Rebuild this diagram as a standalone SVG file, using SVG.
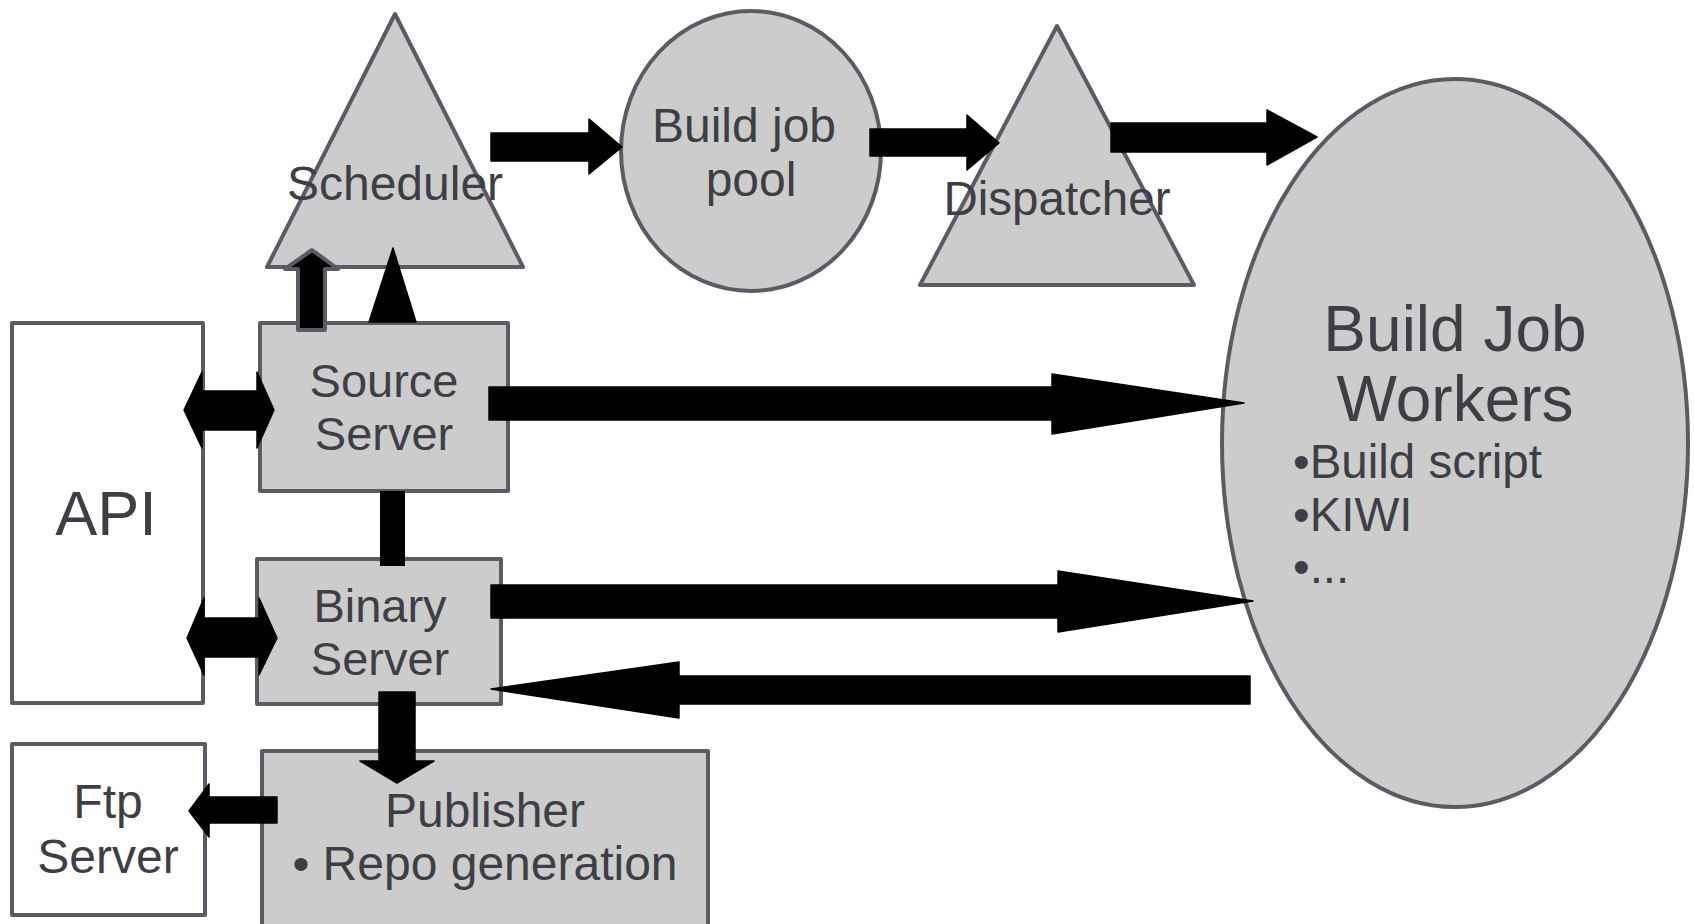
<svg xmlns="http://www.w3.org/2000/svg" width="1694" height="924" viewBox="0 0 1694 924">
  <style>
    .shape { fill: #cccccc; stroke: #5b5b65; stroke-width: 4; stroke-linejoin: round; }
    .plain { fill: #ffffff; stroke: #5b5b65; stroke-width: 4; stroke-linejoin: round; }
    .lbl { font-family: "Liberation Sans", Arial, sans-serif; fill: #3e3e46; text-anchor: middle; }
    .bul { font-family: "Liberation Sans", Arial, sans-serif; fill: #3e3e46; text-anchor: start; }
    .arrow { fill: #000000; stroke: #000000; stroke-width: 1.5; stroke-linejoin: round; }
    .arrow-out { fill: #000000; stroke: #5b5b65; stroke-width: 4; stroke-linejoin: round; }
  </style>

  <rect width="1694" height="924" fill="#ffffff"/>

  <g id="scheduler">
    <polygon class="shape" points="395,14 267,267 523,267"/>
    <text class="lbl" x="395" y="200" font-size="48">Scheduler</text>
  </g>

  <g id="build-job-pool">
    <ellipse class="shape" cx="751" cy="151" rx="130" ry="140"/>
    <text class="lbl" x="744" y="142" font-size="48">Build job</text>
    <text class="lbl" x="751" y="196" font-size="48">pool</text>
  </g>

  <g id="dispatcher">
    <polygon class="shape" points="1057,26 920,285 1194,285"/>
    <text class="lbl" x="1057" y="215" font-size="47.5">Dispatcher</text>
  </g>

  <g id="build-job-workers">
    <ellipse class="shape" cx="1455" cy="443" rx="233" ry="364"/>
    <text class="lbl" x="1455" y="351" font-size="64">Build Job</text>
    <text class="lbl" x="1455" y="421" font-size="64">Workers</text>
    <text class="bul" x="1293" y="478" font-size="47.5">•Build script</text>
    <text class="bul" x="1293" y="531" font-size="47.5">•KIWI</text>
    <text class="bul" x="1293" y="583" font-size="47.5">•...</text>
  </g>

  <g id="api">
    <rect class="plain" x="12" y="323" width="191" height="380"/>
    <text class="lbl" x="106" y="535" font-size="63">API</text>
  </g>

  <g id="source-server">
    <rect class="shape" x="260" y="323" width="248" height="168"/>
    <text class="lbl" x="384" y="397" font-size="47">Source</text>
    <text class="lbl" x="384" y="450" font-size="47">Server</text>
  </g>

  <g id="binary-server">
    <rect class="shape" x="257" y="559" width="244" height="145"/>
    <text class="lbl" x="380" y="622" font-size="47">Binary</text>
    <text class="lbl" x="380" y="675" font-size="47">Server</text>
  </g>

  <g id="publisher">
    <rect class="shape" x="262" y="751" width="446" height="185"/>
    <text class="lbl" x="485" y="827" font-size="48">Publisher</text>
    <text class="lbl" x="485" y="880" font-size="48">• Repo generation</text>
  </g>

  <g id="ftp-server">
    <rect class="plain" x="12" y="744" width="193" height="171"/>
    <text class="lbl" x="108" y="818" font-size="48">Ftp</text>
    <text class="lbl" x="108" y="873" font-size="48">Server</text>
  </g>

  <g id="connectors">
    <!-- top pipeline -->
    <polygon class="arrow" points="491,133 589,133 589,119 622,147 589,174 589,161 491,161"/>
    <polygon class="arrow" points="870,129 967,129 967,115 999,143 967,170 967,156 870,156"/>
    <polygon class="arrow" points="1111,123 1267,123 1267,110 1317,137 1267,165 1267,152 1111,152"/>

    <!-- servers to workers and back -->
    <polygon class="arrow" points="489,387 1052,387 1052,374 1244,403 1052,434 1052,420 489,420"/>
    <polygon class="arrow" points="491,585 1058,585 1058,571 1253,601 1058,632 1058,618 491,618"/>
    <polygon class="arrow" points="1250,676 679,676 679,662 491,689 679,718 679,704 1250,704"/>

    <!-- API links -->
    <polygon class="arrow" points="184,410 202,372 202,391 257,391 257,372 274,410 257,448 257,430 202,430 202,448"/>
    <polygon class="arrow" points="187,638 204,598 204,618 259,618 259,598 277,638 259,675 259,657 204,657 204,675"/>

    <!-- source to binary -->
    <rect x="380" y="491" width="25" height="75" fill="#000000"/>

    <!-- binary to publisher -->
    <polygon class="arrow" points="379,692 415,692 415,761 434,761 397,783 360,761 379,761"/>

    <!-- publisher to ftp -->
    <polygon class="arrow" points="277,797 209,797 209,784 189,811 209,837 209,823 277,823"/>

    <!-- source to scheduler -->
    <polygon class="arrow-out" points="298,330 298,269 285,269 312,250 338,269 325,269 325,330"/>
    <polygon class="arrow" points="369,322 416,322 393,248"/>
  </g>
</svg>
